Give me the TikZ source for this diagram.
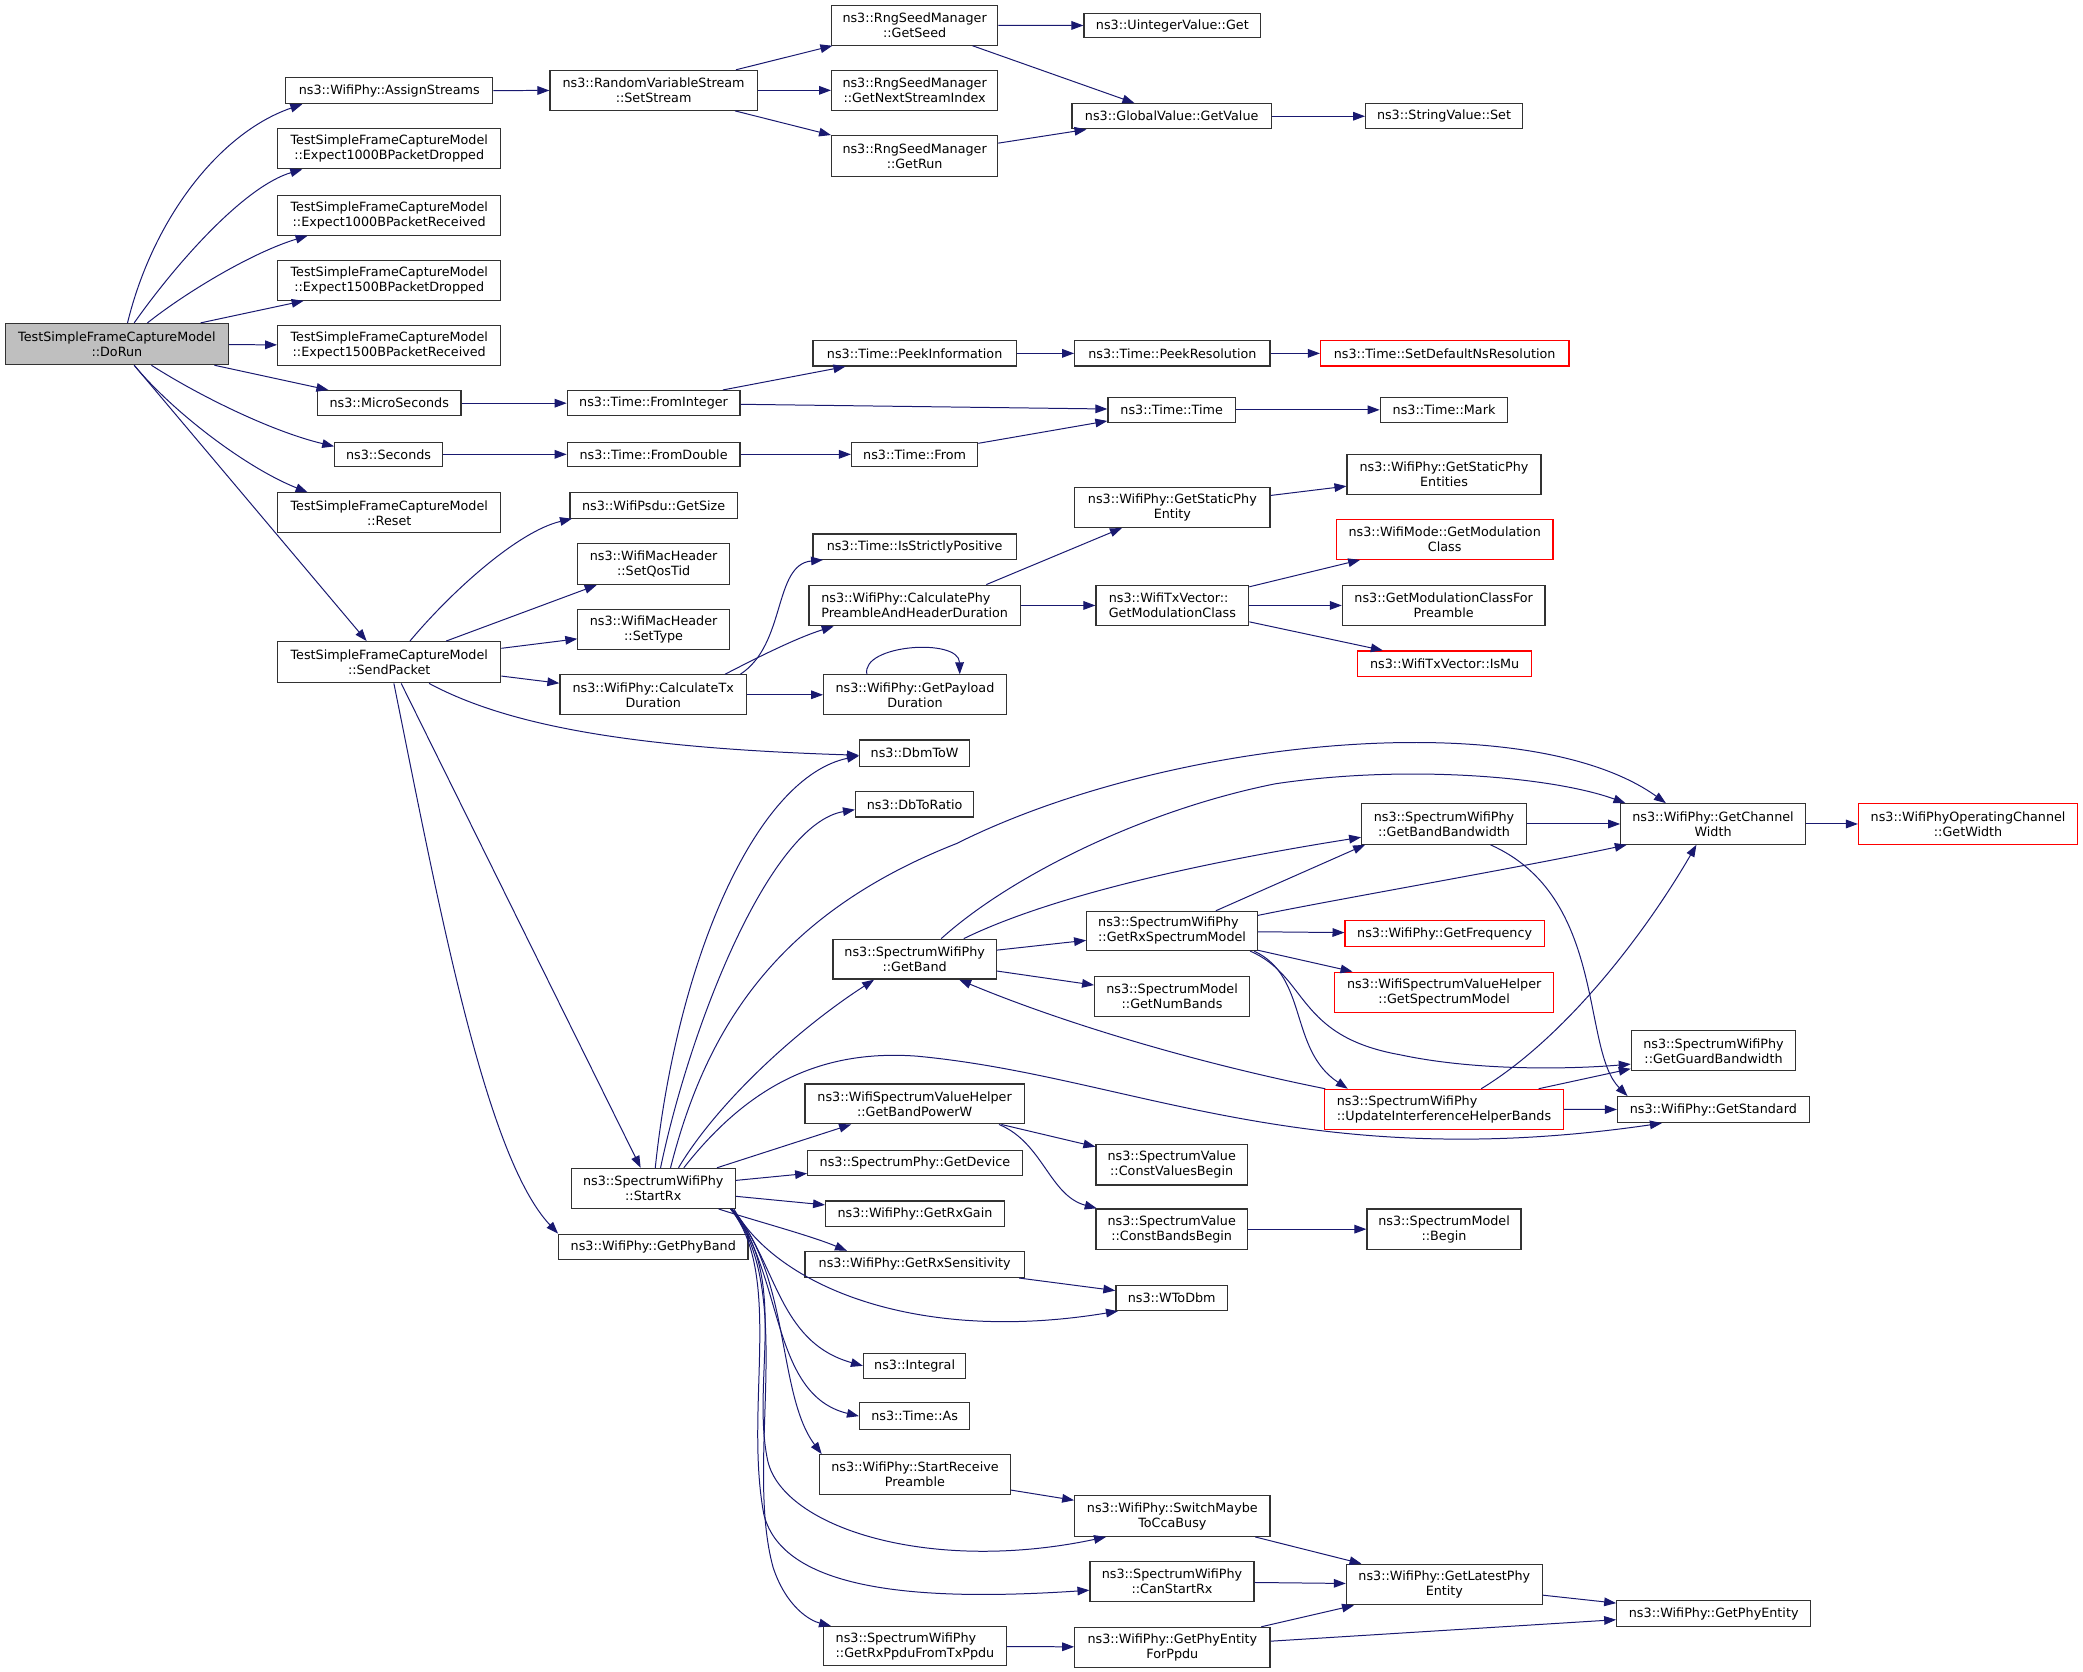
\documentclass[tikz,border=0pt]{standalone}
\usepackage{fontspec}
\setmainfont{DejaVu Sans}
\usetikzlibrary{arrows.meta,calc}
\definecolor{edgecol}{RGB}{25,25,112}
\definecolor{bordcol}{RGB}{50,50,50}
\definecolor{truncred}{RGB}{255,0,0}
\definecolor{rootfill}{RGB}{191,191,191}
\newcommand\fn[7][]{\node[fbox,#1,minimum width={(#5)-(#3)},minimum height={(#6)-(#4)}] (#2) at ({((#3)+(#5))/2},{((#4)+(#6))/2}) {#7};}
\begin{document}
\begin{tikzpicture}[x=1pt,y=-1pt,
 fbox/.style={draw=bordcol,line width=0.9pt,fill=white,inner sep=0pt,align=center,font=\fontsize{9.6pt}{11.3pt}\selectfont},
 trunc/.style={draw=truncred},
 lft/.style={align=left},
 root/.style={fill=rootfill},
 calln/.style={draw=edgecol,line width=0.75pt,-{Triangle[length=9pt,width=6.5pt]}}]
\useasboundingbox (0,0) rectangle (1568,1258.6);
% nodes
\fn[root]{dorun}{4}{243.5}{172}{274.5}{TestSimpleFrameCaptureModel\\::DoRun}
\fn{assign}{215}{58.5}{371}{78}{ns3::WifiPhy::AssignStreams}
\fn{eOneD}{209}{97}{377}{127}{TestSimpleFrameCaptureModel\\::Expect1000BPacketDropped}
\fn{eOneR}{209}{147}{377}{177}{TestSimpleFrameCaptureModel\\::Expect1000BPacketReceived}
\fn{eFiveD}{209}{196}{377}{226}{TestSimpleFrameCaptureModel\\::Expect1500BPacketDropped}
\fn{eFiveR}{209}{245}{377}{275}{TestSimpleFrameCaptureModel\\::Expect1500BPacketReceived}
\fn{micro}{239}{294}{347}{313}{ns3::MicroSeconds}
\fn{secs}{252}{333}{333}{351}{ns3::Seconds}
\fn{reset}{209}{371}{377}{401}{TestSimpleFrameCaptureModel\\::Reset}
\fn{send}{209}{483}{377}{514}{TestSimpleFrameCaptureModel\\::SendPacket}
\fn{setstream}{414}{53}{570}{83}{ns3::RandomVariableStream\\::SetStream}
\fn{getseed}{626}{4}{751}{34}{ns3::RngSeedManager\\::GetSeed}
\fn{nextidx}{626}{53}{751}{83}{ns3::RngSeedManager\\::GetNextStreamIndex}
\fn{getrun}{626}{102}{751}{133}{ns3::RngSeedManager\\::GetRun}
\fn{uintget}{816}{10}{949}{28.5}{ns3::UintegerValue::Get}
\fn{getvalue}{807}{78}{957}{97}{ns3::GlobalValue::GetValue}
\fn{strset}{1028}{78}{1146}{97}{ns3::StringValue::Set}
\fn{peekinfo}{612}{256.5}{765}{275.5}{ns3::Time::PeekInformation}
\fn{peekres}{809}{256.5}{956}{275.5}{ns3::Time::PeekResolution}
\fn[trunc]{setdef}{994}{256.5}{1181}{275.5}{ns3::Time::SetDefaultNsResolution}
\fn{fromint}{427}{294}{557}{313}{ns3::Time::FromInteger}
\fn{fromdbl}{427}{333}{557}{351}{ns3::Time::FromDouble}
\fn{timetime}{834}{299}{930}{318}{ns3::Time::Time}
\fn{timemark}{1039}{299}{1135}{318}{ns3::Time::Mark}
\fn{timefrom}{641}{333}{736}{351}{ns3::Time::From}
\fn{getsize}{429}{371}{555}{390}{ns3::WifiPsdu::GetSize}
\fn{staticent}{809}{367}{956}{397}{ns3::WifiPhy::GetStaticPhy\\Entity}
\fn{staticents}{1014}{342}{1160}{372}{ns3::WifiPhy::GetStaticPhy\\Entities}
\fn[trunc]{modeclass}{1006}{391}{1169}{421}{ns3::WifiMode::GetModulation\\Class}
\fn{strictpos}{612}{402}{765}{421}{ns3::Time::IsStrictlyPositive}
\fn{qostid}{435}{409}{549}{440}{ns3::WifiMacHeader\\::SetQosTid}
\fn{settype}{435}{458.5}{549}{489}{ns3::WifiMacHeader\\::SetType}
\fn{calctx}{421.5}{508}{562}{538}{ns3::WifiPhy::CalculateTx\\Duration}
\fn[lft]{calcpre}{609}{440.5}{768}{471}{ns3::WifiPhy::CalculatePhy\\PreambleAndHeaderDuration}
\fn[lft]{txmodclass}{825}{440.5}{940}{471}{ns3::WifiTxVector::\\GetModulationClass}
\fn{modforpre}{1010.5}{440.5}{1163}{471}{ns3::GetModulationClassFor\\Preamble}
\fn[trunc]{ismu}{1022}{490}{1153}{509}{ns3::WifiTxVector::IsMu}
\fn{payload}{620}{508}{757.5}{538}{ns3::WifiPhy::GetPayload\\Duration}
\fn{dbmtow}{647}{557}{730}{577}{ns3::DbmToW}
\fn{dbtoratio}{644}{596}{733}{615}{ns3::DbToRatio}
\fn{chwidth}{1220}{605}{1359}{635.5}{ns3::WifiPhy::GetChannel\\Width}
\fn[trunc]{opwidth}{1399}{605}{1564}{635.5}{ns3::WifiPhyOperatingChannel\\::GetWidth}
\fn{bandbw}{1025}{605}{1149}{635.5}{ns3::SpectrumWifiPhy\\::GetBandBandwidth}
\fn[lft]{rxspec}{818}{686}{946.6}{715.5}{ns3::SpectrumWifiPhy\\::GetRxSpectrumModel}
\fn{getband}{627}{707}{750}{737}{ns3::SpectrumWifiPhy\\::GetBand}
\fn{numbands}{824}{735}{940.5}{765}{ns3::SpectrumModel\\::GetNumBands}
\fn[trunc]{freq}{1012.5}{693}{1162.4}{712.5}{ns3::WifiPhy::GetFrequency}
\fn[trunc]{specmodel}{1004.6}{731.8}{1169.6}{762}{ns3::WifiSpectrumValueHelper\\::GetSpectrumModel}
\fn{guardbw}{1228}{776}{1351.7}{806}{ns3::SpectrumWifiPhy\\::GetGuardBandwidth}
\fn[trunc,lft]{updihb}{997}{820}{1177}{850}{ns3::SpectrumWifiPhy\\::UpdateInterferenceHelperBands}
\fn{standard}{1217.6}{825.5}{1361.8}{845}{ns3::WifiPhy::GetStandard}
\fn{bandpow}{606}{816}{771}{846}{ns3::WifiSpectrumValueHelper\\::GetBandPowerW}
\fn{cvalbeg}{825}{861.5}{939}{892}{ns3::SpectrumValue\\::ConstValuesBegin}
\fn{getdev}{608}{866}{769.5}{885}{ns3::SpectrumPhy::GetDevice}
\fn{startrx}{430}{879.5}{553.5}{909.6}{ns3::SpectrumWifiPhy\\::StartRx}
\fn{rxgain}{621.5}{904}{756}{923}{ns3::WifiPhy::GetRxGain}
\fn{phyband}{420.5}{929}{563}{948}{ns3::WifiPhy::GetPhyBand}
\fn{rxsens}{606}{942}{771}{961.6}{ns3::WifiPhy::GetRxSensitivity}
\fn{cbandbeg}{825}{910}{939}{940.5}{ns3::SpectrumValue\\::ConstBandsBegin}
\fn{smbegin}{1029}{910}{1145}{940.5}{ns3::SpectrumModel\\::Begin}
\fn{wtodbm}{840}{967.5}{924}{986.5}{ns3::WToDbm}
\fn{integral}{650}{1018.6}{727}{1037.7}{ns3::Integral}
\fn{timeas}{647}{1056}{730}{1076}{ns3::Time::As}
\fn{recvpre}{617}{1095}{760.5}{1125}{ns3::WifiPhy::StartReceive\\Preamble}
\fn{ccabusy}{809}{1126}{956}{1156.5}{ns3::WifiPhy::SwitchMaybe\\ToCcaBusy}
\fn{canstart}{820.5}{1175.5}{944}{1205.6}{ns3::SpectrumWifiPhy\\::CanStartRx}
\fn{latestent}{1013.5}{1177.5}{1161}{1208}{ns3::WifiPhy::GetLatestPhy\\Entity}
\fn{phyent}{1217}{1205}{1363}{1224.4}{ns3::WifiPhy::GetPhyEntity}
\fn[lft]{rxppdu}{620}{1224.4}{757.5}{1253.8}{ns3::SpectrumWifiPhy\\::GetRxPpduFromTxPpdu}
\fn{entforppdu}{809}{1225}{956}{1255}{ns3::WifiPhy::GetPhyEntity\\ForPpdu}
% edges from DoRun
\draw[calln] ($(dorun.north)+(8,0)$) .. controls (115,165) and (165,100) .. ($(assign.south west)+(13,0)$);
\draw[calln] ($(dorun.north)+(13,0)$) .. controls (135,195) and (185,140) .. ($(eOneD.south west)+(19,0)$);
\draw[calln] ($(dorun.north)+(23,0)$) .. controls (140,220) and (190,190) .. ($(eOneR.south west)+(23,0)$);
\draw[calln] ($(dorun.north)+(63,0)$) -- ($(eFiveD.south west)+(20,0)$);
\draw[calln] (dorun) -- (eFiveR);
\draw[calln] (dorun) -- (micro);
\draw[calln] ($(dorun.south)+(26,0)$) .. controls (150,298) and (205,325) .. ($(secs.west)+(0,-6)$);
\draw[calln] ($(dorun.south)+(13,0)$) .. controls (130,310) and (185,352) .. ($(reset.north west)+(23,0)$);
\draw[calln] ($(dorun.south)+(13,0)$) -- ($(send.north)+(-17,0)$);
% top part
\draw[calln] (assign) -- (setstream);
\draw[calln] (setstream) -- (getseed);
\draw[calln] (setstream) -- (nextidx);
\draw[calln] (setstream) -- (getrun);
\draw[calln] (getseed) -- (uintget);
\draw[calln] (getseed) -- (getvalue);
\draw[calln] (getrun) -- (getvalue);
\draw[calln] (getvalue) -- (strset);
\draw[calln] (micro) -- (fromint);
\draw[calln] (secs) -- (fromdbl);
\draw[calln] (fromint) -- (peekinfo);
\draw[calln] (fromint) -- (timetime);
\draw[calln] (peekinfo) -- (peekres);
\draw[calln] (peekres) -- (setdef);
\draw[calln] (timetime) -- (timemark);
\draw[calln] (fromdbl) -- (timefrom);
\draw[calln] (timefrom) -- (timetime);
% SendPacket
\draw[calln] ($(send.north)+(15.6,0)$) .. controls (340,445) and (390,400) .. ($(getsize.south west)+(2,0)$);
\draw[calln] (send) -- (qostid);
\draw[calln] (send) -- (settype);
\draw[calln] (send) -- (calctx);
\draw[calln] ($(send.south)+(30,0)$) .. controls (380,545) and (470,563) .. ($(dbmtow.west)+(0,1.5)$);
\draw[calln] ($(send.south)+(9,0)$) -- ($(startrx.north)+(-9.5,0)$);
\draw[calln] ($(send.south)+(3.5,0)$) .. controls (330,680) and (365,870) .. (phyband.north west);
% CalculateTxDuration
\draw[calln] ($(calctx.north)+(65.5,0)$) .. controls (592,485) and (582,425) .. ($(strictpos.south west)+(8,0)$);
\draw[calln] ($(calctx.north)+(54,0)$) .. controls (570,495) and (600,480) .. ($(calcpre.south west)+(19,0)$);
\draw[calln] (calctx) -- (payload);
\draw[calln] ($(payload.north west)+(33,0)$) .. controls (648,485) and (722,480) .. ($(payload.north east)+(-35.5,0)$);
\draw[calln] ($(calcpre.north east)+(-26,0)$) -- ($(staticent.south west)+(36,0)$);
\draw[calln] (calcpre) -- (txmodclass);
\draw[calln] (staticent) -- (staticents);
\draw[calln] (txmodclass) -- (modeclass);
\draw[calln] (txmodclass) -- (modforpre);
\draw[calln] (txmodclass) -- (ismu);
% StartRx upward
\draw[calln] ($(startrx.north)+(1.5,0)$) .. controls (510,720) and (570,585) .. ($(dbmtow.west)+(0,2)$);
\draw[calln] ($(startrx.north)+(5.5,0)$) .. controls (520,770) and (580,620) .. ($(dbtoratio.west)+(0,4)$);
\draw[calln] ($(startrx.north)+(13,0)$) .. controls (530,780) and (580,690) .. (720,635) .. controls (880,555) and (1150,530) .. ($(chwidth.north)+(-35.5,0)$);
\draw[calln] ($(startrx.north)+(19,0)$) .. controls (540,830) and (600,775) .. ($(getband.south)+(-30.5,0)$);
\draw[calln] ($(startrx.north)+(23,0)$) .. controls (565,815) and (620,790) .. (690,795) .. controls (850,810) and (980,885) .. ($(standard.south)+(-38.7,0)$);
\draw[calln] (startrx) -- (bandpow);
% StartRx rightward / downward
\draw[calln] (startrx) -- (getdev);
\draw[calln] (startrx) -- (rxgain);
\draw[calln] ($(startrx.south east)+(-13,0)$) .. controls (565,918) and (610,930) .. ($(rxsens.north west)+(32,0)$);
\draw[calln] ($(startrx.south east)+(-1.5,0)$) .. controls (585,968) and (690,1012) .. ($(wtodbm.south west)+(2,0)$);
\draw[calln] ($(startrx.south east)+(-3,0)$) .. controls (585,950) and (585,1010) .. (integral.west);
\draw[calln] ($(startrx.south east)+(-3,0)$) .. controls (590,960) and (580,1050) .. (timeas.west);
\draw[calln] ($(startrx.south east)+(-3,0)$) .. controls (595,960) and (585,1050) .. ($(recvpre.north west)+(2,0)$);
\draw[calln] ($(startrx.south east)+(-4,0)$) .. controls (595,960) and (565,1040) .. (578,1100) .. controls (590,1150) and (700,1185) .. ($(ccabusy.south west)+(24,0)$);
\draw[calln] ($(startrx.south east)+(-4,0)$) .. controls (590,960) and (560,1060) .. (575,1140) .. controls (590,1200) and (700,1205) .. ($(canstart.west)+(0,6.5)$);
\draw[calln] ($(startrx.south east)+(-4,0)$) .. controls (600,970) and (560,1100) .. (582,1180) .. controls (592,1210) and (610,1220) .. ($(rxppdu.north west)+(6,0)$);
% GetBand cluster
\draw[calln] (getband) -- (rxspec);
\draw[calln] (getband) -- (numbands);
\draw[calln] ($(getband.north)+(20,0)$) .. controls (760,660) and (860,610) .. (960,590) .. controls (1060,575) and (1170,585) .. ($(chwidth.north west)+(4,0)$);
\draw[calln] ($(getband.north)+(37,0)$) .. controls (790,675) and (900,650) .. ($(bandbw.west)+(0,10)$);
\draw[calln] ($(rxspec.north)+(33,0)$) -- ($(bandbw.south west)+(3,0)$);
\draw[calln] ($(rxspec.north east)+(0,3.5)$) .. controls (1000,678) and (1150,652) .. ($(chwidth.south west)+(5,0)$);
\draw[calln] (rxspec) -- (freq);
\draw[calln] (rxspec) -- (specmodel);
\draw[calln] ($(rxspec.south east)+(-6,0)$) .. controls (985,735) and (975,780) .. (1054,794) .. controls (1110,806) and (1180,805) .. ($(guardbw.west)+(0,10)$);
\draw[calln] ($(rxspec.south east)+(-3,0)$) .. controls (985,735) and (970,790) .. ($(updihb.north west)+(18,0)$);
\draw[calln] (bandbw) -- (chwidth);
\draw[calln] ($(bandbw.south east)+(-27.5,0)$) .. controls (1210,675) and (1190,790) .. ($(standard.north west)+(8,0)$);
\draw[calln] (chwidth) -- (opwidth);
\draw[calln] ($(updihb.north west)+(1,0)$) .. controls (900,800) and (800,770) .. ($(getband.south)+(33.5,0)$);
\draw[calln] ($(updihb.north)+(28,0)$) .. controls (1180,780) and (1240,700) .. ($(chwidth.south)+(-12.5,0)$);
\draw[calln] (updihb) -- (guardbw);
\draw[calln] (updihb) -- (standard);
% band power, sensitivity, phy entity
\draw[calln] (bandpow) -- (cvalbeg);
\draw[calln] ($(bandpow.south)+(63.5,0)$) .. controls (785,860) and (790,900) .. ($(cbandbeg.north west)+(1,0)$);
\draw[calln] (cbandbeg) -- (smbegin);
\draw[calln] (rxsens) -- (wtodbm);
\draw[calln] (recvpre) -- (ccabusy);
\draw[calln] (ccabusy) -- (latestent);
\draw[calln] (canstart) -- (latestent);
\draw[calln] (rxppdu) -- (entforppdu);
\draw[calln] (entforppdu) -- (latestent);
\draw[calln] (entforppdu) -- (phyent);
\draw[calln] (latestent) -- (phyent);
\end{tikzpicture}
\end{document}
